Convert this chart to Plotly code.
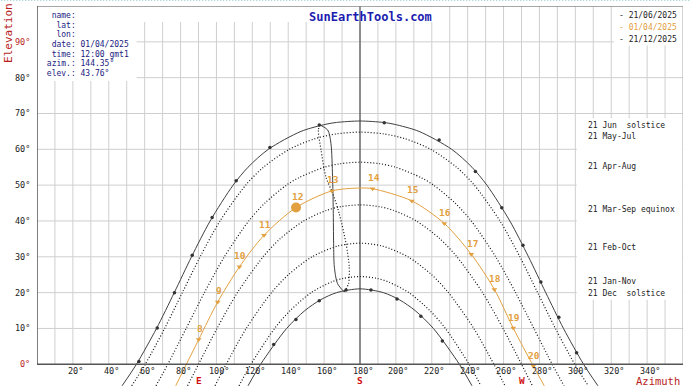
import plotly.graph_objects as go

# ---------------- data (azimuth deg, elevation deg) ----------------
JUN_AZ = [47.4, 55.4, 66.6, 76.5, 86.1, 96.5, 109.3, 117.6, 128.9, 147.1, 161.0, 166.9, 180.0,
          193.1, 199.0, 212.9, 231.1, 242.4, 250.7, 263.5, 273.9, 283.5, 293.4, 304.6, 312.6]
JUN_EL = [-6, 0, 10, 20, 30, 40, 50, 55, 60, 65, 67, 67.5, 67.9,
          67.5, 67, 65, 60, 55, 50, 40, 30, 20, 10, 0, -6]

MAYJUL_AZ = [52.8, 60.3, 71.1, 81.0, 90.9, 102.0, 116.3, 126.2, 140.6, 155.1, 166.8, 180.0,
             193.2, 204.9, 219.4, 233.8, 243.7, 258.0, 269.1, 279.0, 288.9, 299.7, 307.2]
MAYJUL_EL = [-6, 0, 10, 20, 30, 40, 50, 55, 60, 63, 64.3, 64.8,
             64.3, 63, 60, 55, 50, 40, 30, 20, 10, 0, -6]

APRAUG_AZ = [66.3, 72.9, 83.1, 93.3, 104.4, 118.0, 127.0, 139.0, 145.6, 160.1, 169.2, 180.0,
             190.8, 199.9, 214.4, 221.0, 233.0, 242.0, 255.6, 266.7, 276.9, 287.1, 293.7]
APRAUG_EL = [-6, 0, 10, 20, 30, 40, 45, 50, 52, 55, 56, 56.4,
             56, 55, 52, 50, 45, 40, 30, 20, 10, 0, -6]

EQUI_AZ = [83.9, 90.0, 100.3, 111.7, 126.0, 135.4, 148.6, 161.6, 169.3, 180.0,
           190.7, 198.4, 211.4, 224.6, 234.0, 248.3, 259.7, 270.0, 276.1]
EQUI_EL = [-6, 0, 10, 20, 30, 35, 40, 43, 44, 44.5,
           44, 43, 40, 35, 30, 20, 10, 0, -6]

FEBOCT_AZ = [99.2, 105.4, 116.6, 130.7, 140.1, 153.3, 167.6, 180.0,
             192.4, 206.7, 219.9, 229.3, 243.4, 254.6, 260.8]
FEBOCT_EL = [-6, 0, 10, 20, 25, 30, 33, 33.8, 33, 30, 25, 20, 10, 0, -6]

JANNOV_AZ = [112.6, 119.2, 132.4, 141.1, 152.8, 164.2, 170.8, 180.0,
             189.2, 195.8, 207.2, 218.9, 227.6, 240.8, 247.4]
JANNOV_EL = [-6, 0, 10, 15, 20, 23, 24, 24.5, 24, 23, 20, 15, 10, 0, -6]

DEC_AZ = [117.6, 124.6, 139.1, 149.3, 158.0, 167.0, 180.0, 193.0, 202.0, 210.7, 220.9, 235.4, 242.4]
DEC_EL = [-6, 0, 10, 15, 18, 20, 21.06, 20, 18, 15, 10, 0, -6]

JUN_DOT_AZ = [56.8, 67.0, 76.6, 86.5, 97.6, 111.0, 129.8, 157.3, 193.5, 224.1, 244.3, 259.0, 270.8, 280.8, 290.8, 300.7]
JUN_DOT_EL = [0.8, 10.1, 20.0, 30.4, 41.0, 51.2, 60.5, 66.8, 67.4, 62.6, 53.8, 43.7, 33.2, 23.0, 13.1, 3.2]
DEC_DOT_AZ = [131.9, 144.3, 157.3, 172.2, 186.1, 200.6, 213.9, 225.9]
DEC_DOT_EL = [5.5, 12.5, 17.7, 20.7, 20.7, 18.2, 13.4, 6.5]

APR1_AZ = [77.3, 90.1, 100.7, 112.8, 126.5, 144.35, 164.4, 180.0, 187.0, 208.9, 227.0, 242.0, 254.9, 265.4, 276.6, 282.7]
APR1_EL = [-6, 6.9, 17.4, 27.2, 36.0, 43.76, 48.4, 49.2, 49.0, 45.6, 39.3, 30.7, 20.9, 10.1, -0.5, -6]

HOURS = [8, 9, 10, 11, 12, 13, 14, 15, 16, 17, 18, 19, 20]
HOUR_AZ = [90.1, 100.7, 112.8, 126.5, 144.35, 164.4, 187.0, 208.9, 227.0, 242.0, 254.9, 265.4, 276.6]
HOUR_EL = [6.9, 17.4, 27.2, 36.0, 43.76, 48.4, 49.0, 45.6, 39.3, 30.7, 20.9, 10.1, -0.5]

CUR_AZ = 144.35
CUR_EL = 43.76

ANA_SOLID_AZ = [157.7, 162.0, 163.8, 164.7, 165.1, 165.3, 165.7, 167.5, 171.2]
ANA_SOLID_EL = [66.8, 65.4, 61.7, 52.4, 43.1, 33.7, 27.2, 22.5, 20.2]
ANA_DOT_AZ = [157.7, 156.8, 158.3, 161.0, 164.8, 168.4, 172.2, 174.0, 173.6, 171.2]
ANA_DOT_EL = [66.8, 65.4, 59.8, 52.3, 47.7, 42.1, 33.7, 27.2, 22.5, 20.2]

CURVE_LABELS = ["21 Jun  solstice", "21 May-Jul", "21 Apr-Aug", "21 Mar-Sep equinox",
                "21 Feb-Oct", "21 Jan-Nov", "21 Dec  solstice"]
CURVE_LABEL_EL = [67.9, 64.8, 56.4, 44.5, 33.8, 24.5, 21.06]

LEGEND_TEXT = ["- 21/06/2025", "- 01/04/2025", "- 21/12/2025"]
INFO_LINES = ["  name:", "   lat:", "   lon:", "  date: 01/04/2025", "  time: 12:00 gmt1",
              " azim.: 144.35°", " elev.: 43.76°"]

X_TICKS = list(range(20, 360, 20))
Y_TICKS = list(range(0, 100, 10))
CARDINALS = [("E", 90), ("S", 180), ("W", 270)]

# ---------------- style ----------------
ORANGE = "#E3A040"
DARK = "#404040"
GRID = "#cfcfcf"
RED = "#b81c1c"
MONO = "DejaVu Sans Mono"

fig = go.Figure()


def line(az, el, color, dash, width=1.0):
    fig.add_trace(go.Scatter(x=az, y=el, mode="lines",
                             line=dict(color=color, width=width, dash=dash, shape="spline", smoothing=0.8),
                             hoverinfo="skip", showlegend=False))


line(JUN_AZ, JUN_EL, DARK, "solid")
line(MAYJUL_AZ, MAYJUL_EL, "#111", "1px,2px", 1.2)
line(APRAUG_AZ, APRAUG_EL, "#111", "1px,2px", 1.2)
line(EQUI_AZ, EQUI_EL, "#111", "1px,2px", 1.2)
line(FEBOCT_AZ, FEBOCT_EL, "#111", "1px,2px", 1.2)
line(JANNOV_AZ, JANNOV_EL, "#111", "1px,2px", 1.2)
line(DEC_AZ, DEC_EL, DARK, "solid")
line(ANA_SOLID_AZ, ANA_SOLID_EL, DARK, "solid")
line(ANA_DOT_AZ, ANA_DOT_EL, "#111", "1px,2px", 1.2)
line(APR1_AZ, APR1_EL, ORANGE, "solid")

for az, el in ((JUN_DOT_AZ, JUN_DOT_EL), (DEC_DOT_AZ, DEC_DOT_EL)):
    fig.add_trace(go.Scatter(x=az, y=el, mode="markers",
                             marker=dict(size=3.5, color="#333"), hoverinfo="skip", showlegend=False))

tri_az = [a for h, a in zip(HOURS, HOUR_AZ) if h != 12]
tri_el = [e for h, e in zip(HOURS, HOUR_EL) if h != 12]
fig.add_trace(go.Scatter(x=tri_az, y=tri_el, mode="markers",
                         marker=dict(symbol="triangle-down", size=5, color=ORANGE),
                         hoverinfo="skip", showlegend=False))
fig.add_trace(go.Scatter(x=[CUR_AZ], y=[CUR_EL], mode="markers",
                         marker=dict(size=10, color=ORANGE), hoverinfo="skip", showlegend=False))

# ---------------- shapes ----------------
shapes = []
for a in range(10, 360, 10):
    shapes.append(dict(type="line", x0=a, x1=a, y0=0, y1=100, line=dict(color=GRID, width=1), layer="below"))
for e in range(10, 100, 10):
    shapes.append(dict(type="line", x0=0, x1=360, y0=e, y1=e, line=dict(color=GRID, width=1), layer="below"))
# white label panels
for x0, x1, y0, y1 in ((0.5, 224.5, 95.5, 99.8), (0.5, 55.5, 79.1, 99.8),
                       (321.5, 359.7, 89.0, 99.8), (300.8, 359.7, 18.0, 68.7)):
    shapes.append(dict(type="rect", x0=x0, x1=x1, y0=y0, y1=y1, fillcolor="white",
                       line=dict(width=0), layer="below"))
shapes.append(dict(type="line", x0=180, x1=180, y0=0, y1=100, line=dict(color="#333", width=1), layer="below"))
shapes.append(dict(type="line", x0=0, x1=360, y0=100, y1=100, line=dict(color="#888", width=1.5), layer="below"))
shapes.append(dict(type="line", x0=360, x1=360, y0=0, y1=100, line=dict(color="#aaa", width=1), layer="below"))
shapes.append(dict(type="line", x0=0, x1=0, y0=0, y1=100, line=dict(color="#555", width=1.5), layer="below"))
shapes.append(dict(type="line", x0=0, x1=360, y0=0, y1=0, line=dict(color="#555", width=1.5), layer="above"))
shapes.append(dict(type="line", xref="paper", yref="paper", x0=-0.06, x1=1.02, y0=1.0145, y1=1.0145,
                   line=dict(color="#9ccccc", width=1, dash="1px,2px")))

# ---------------- annotations ----------------
ann = []
for a in X_TICKS:
    ann.append(dict(x=a, y=0, text=f"{a}°", showarrow=False, xshift=2.5, yshift=-6.5, yanchor="middle",
                    font=dict(family=MONO, size=8.5, color="#222")))
for e in Y_TICKS:
    col = RED if e in (0, 90) else "#222"
    ann.append(dict(x=0, y=e, text=f"{e}°", showarrow=False, xshift=-5, xanchor="right",
                    font=dict(family=MONO, size=8.5, color=col)))
for t, a in CARDINALS:
    ann.append(dict(x=a, y=0, text=t, showarrow=False, yshift=-16.5, yanchor="middle",
                    font=dict(family=MONO, size=9.5, color="#d01010", weight="bold")))
ann.append(dict(x=346, y=0, text="Azimuth", showarrow=False, yshift=-17, yanchor="middle",
                font=dict(family=MONO, size=10.5, color=RED)))
ann.append(dict(xref="paper", yref="paper", x=-0.0435, y=0.929, text="Elevation", textangle=-90,
                xanchor="center", yanchor="middle",
                showarrow=False, font=dict(family=MONO, size=11, color=RED)))
ann.append(dict(x=186, y=100, text="SunEarthTools.com", showarrow=False, yshift=-11, yanchor="middle",
                font=dict(family=MONO, size=12, color="#1c1cb0", weight="bold")))
for i, t in enumerate(INFO_LINES):
    ann.append(dict(x=0, y=100, text=t.replace(" ", "&nbsp;"), showarrow=False, xanchor="left",
                    yanchor="middle", xshift=2.7, yshift=-9.7 - 9.6 * i,
                    font=dict(family=MONO, size=8, color="#1a1a80")))
for i, t in enumerate(LEGEND_TEXT):
    col = ORANGE if i == 1 else "#222"
    ann.append(dict(x=360, y=100, text=t, showarrow=False, xanchor="left", yanchor="middle",
                    xshift=-66, yshift=-9 - 12.4 * i, font=dict(family=MONO, size=8, color=col)))
for t, e in zip(CURVE_LABELS, CURVE_LABEL_EL):
    ann.append(dict(x=305, y=e, text=t.replace(" ", "&nbsp;"), showarrow=False, xanchor="left",
                    yanchor="middle", xshift=2, yshift=-4.5, font=dict(family=MONO, size=8, color="#222")))
for h, a, e in zip(HOURS, HOUR_AZ, HOUR_EL):
    ann.append(dict(x=a, y=e, text=str(h), showarrow=False, yshift=11, xshift=1,
                    font=dict(family=MONO, size=9.5, color=ORANGE, weight="bold")))

fig.update_layout(
    width=690, height=386,
    margin=dict(l=37, r=7, t=6, b=0),
    paper_bgcolor="white", plot_bgcolor="white",
    xaxis=dict(range=[0, 360], showgrid=False, zeroline=False, showticklabels=False, showline=False, ticks=""),
    yaxis=dict(range=[-6.06, 100], showgrid=False, zeroline=False, showticklabels=False, showline=False, ticks=""),
    shapes=shapes, annotations=ann, showlegend=False,
)
fig.write_html("out.html")
